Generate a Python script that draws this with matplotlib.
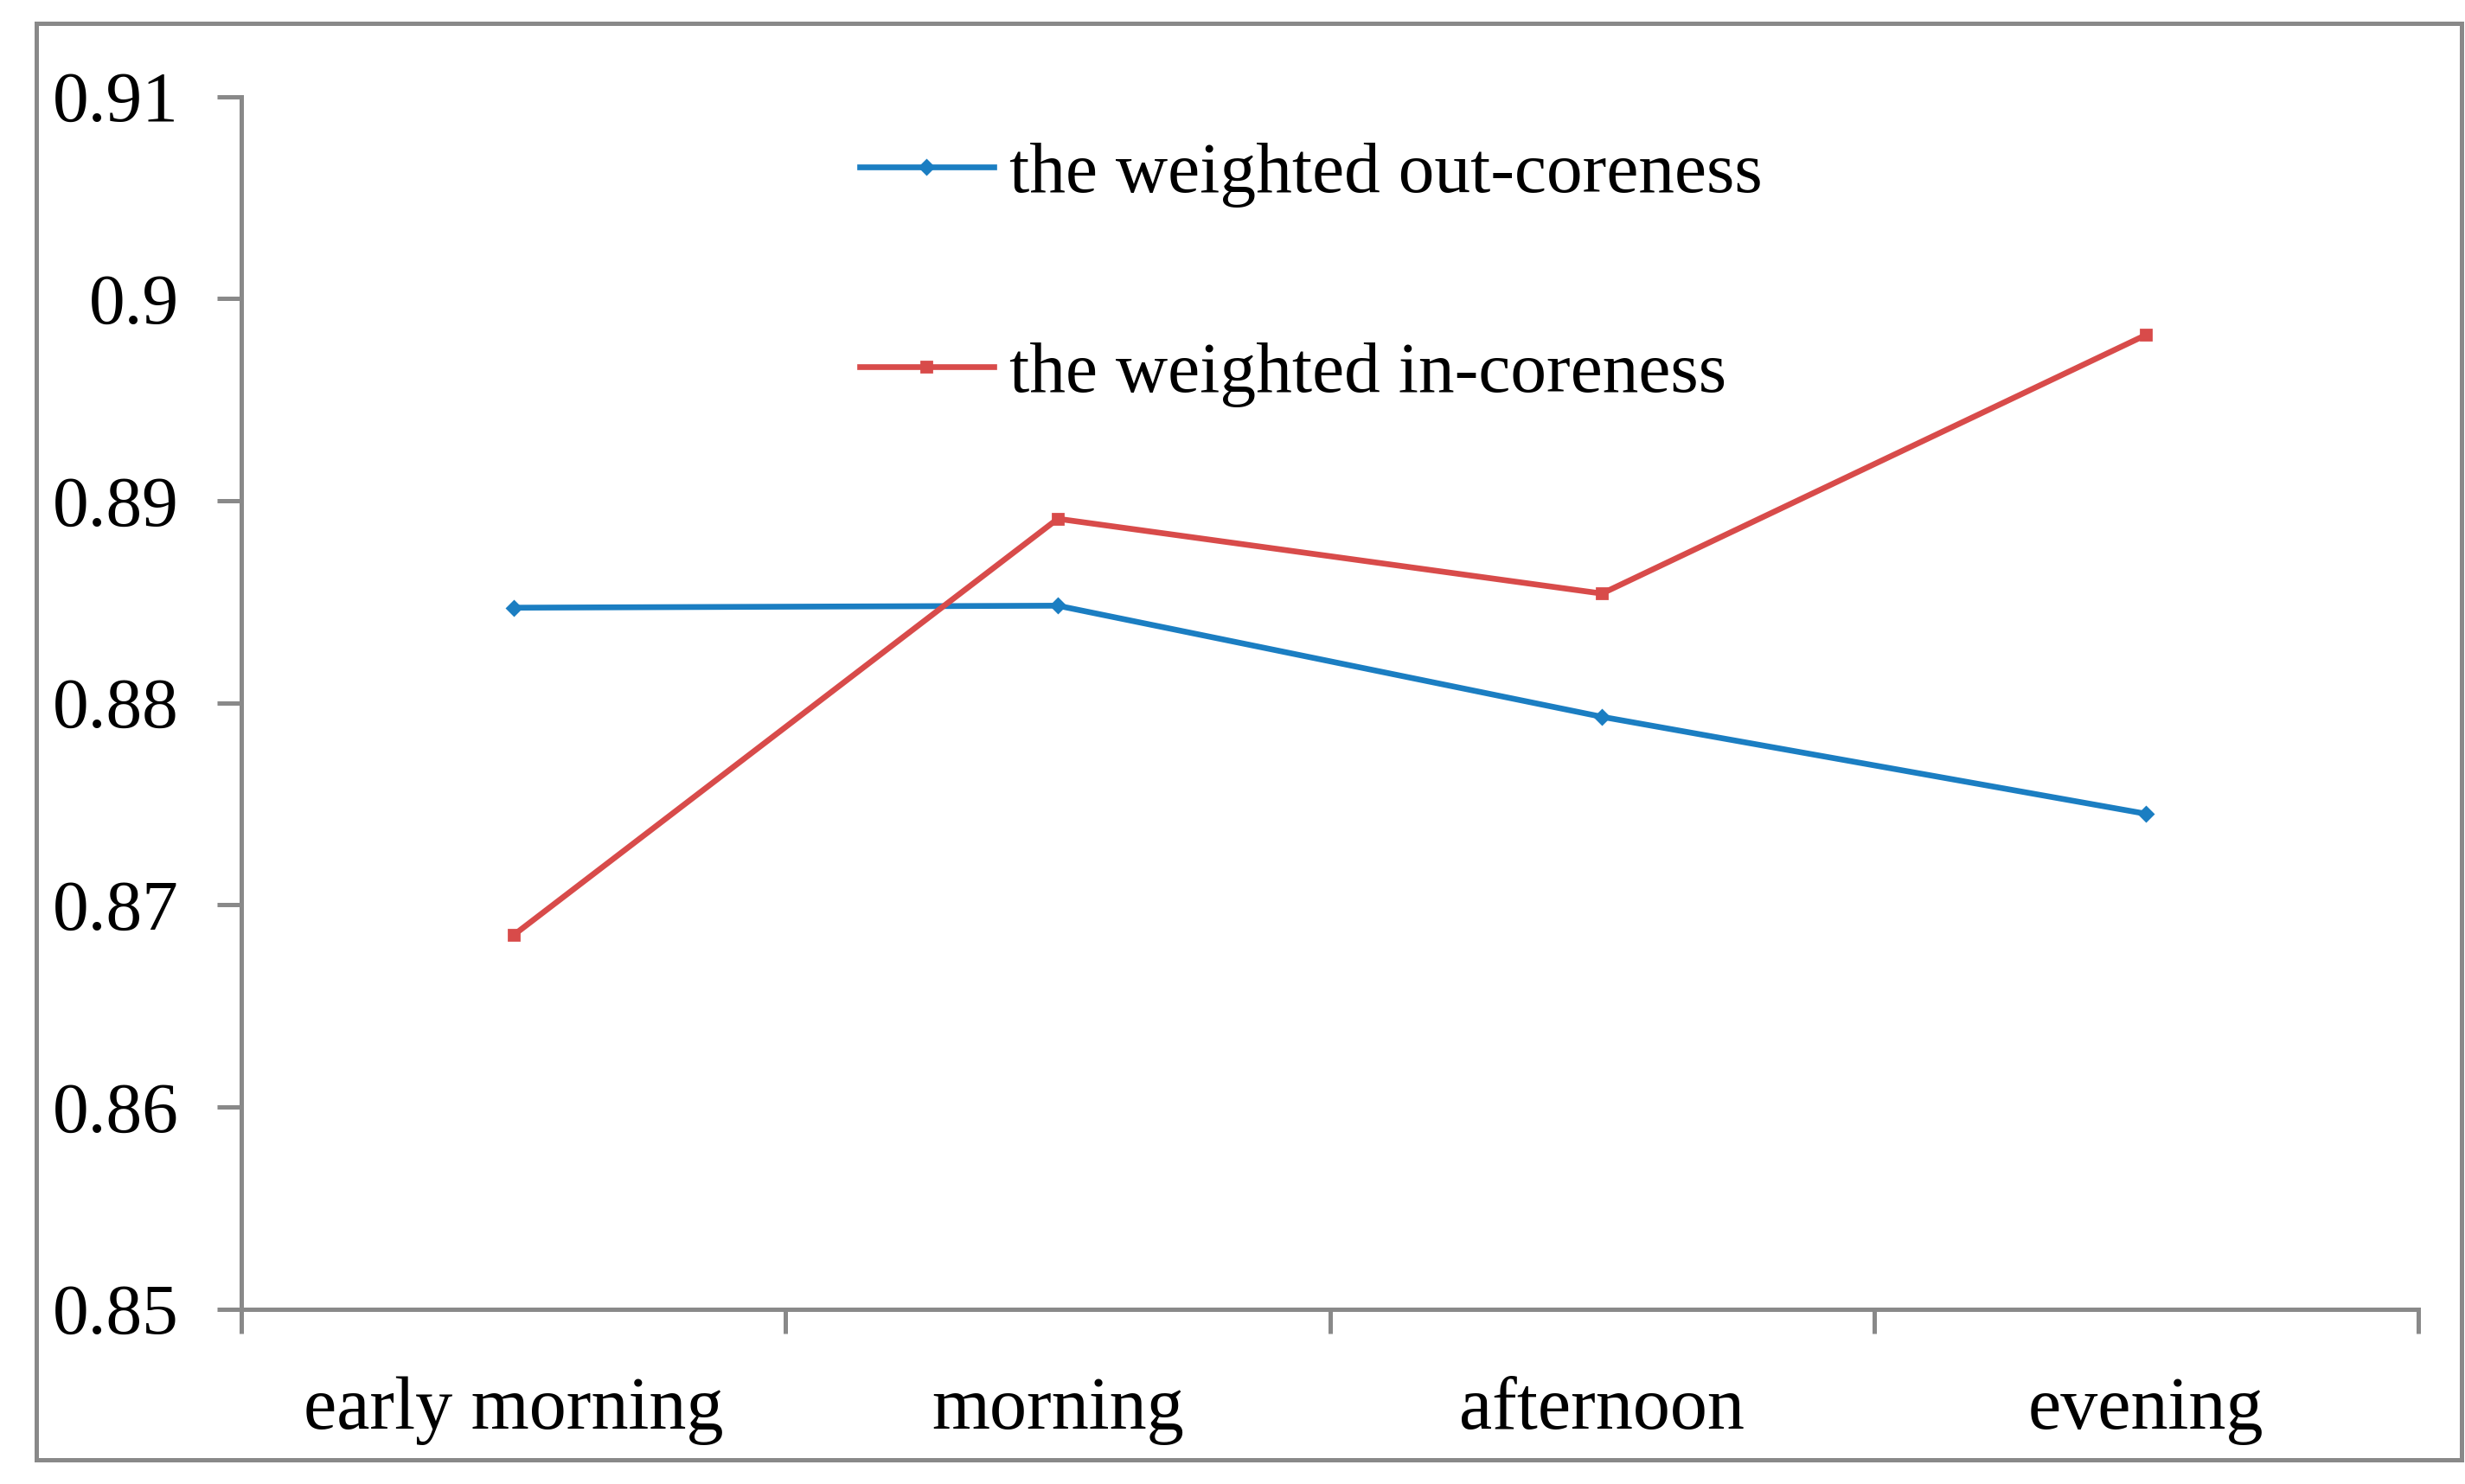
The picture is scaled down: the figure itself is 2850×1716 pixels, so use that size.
import numpy as np
import matplotlib.pyplot as plt
from matplotlib.patches import Rectangle

periods = ['early morning', 'morning', 'afternoon', 'evening']
out_coreness = [0.8847, 0.8848, 0.8793, 0.8745]
in_coreness = [0.8685, 0.8891, 0.8854, 0.8982]
yticks = [0.85, 0.86, 0.87, 0.88, 0.89, 0.9, 0.91]
ytick_labels = ['0.85', '0.86', '0.87', '0.88', '0.89', '0.9', '0.91']

grey = '#898989'
blue = '#1B7EC2'
red = '#D84B4A'

plt.rcParams['font.family'] = ['Liberation Serif', 'DejaVu Serif']

fig = plt.figure(figsize=(14.25, 8.58), dpi=200)
ax = fig.add_axes([0.098, 0.118, 0.883, 0.817])

x = np.arange(len(periods))
ax.plot(x, out_coreness, color=blue, lw=2.4, marker='D', ms=4,
        label='the weighted out-coreness')
ax.plot(x, in_coreness, color=red, lw=2.4, marker='s', ms=4,
        label='the weighted in-coreness')

ax.set_xlim(-0.5, len(periods) - 0.5)
ax.set_ylim(0.85, 0.91)
ax.set_yticks(yticks)
ax.set_yticklabels(ytick_labels)
ax.set_xticks(np.arange(len(periods) + 1) - 0.5)
ax.set_xticklabels([])
ax.set_xticks(x, minor=True)
ax.set_xticklabels(periods, minor=True)

for s in ('top', 'right'):
    ax.spines[s].set_visible(False)
for s in ('left', 'bottom'):
    ax.spines[s].set_color(grey)
    ax.spines[s].set_linewidth(1.8)

ax.tick_params(axis='y', which='major', length=10, width=1.8, color=grey,
               labelsize=30, pad=16)
ax.tick_params(axis='x', which='major', length=10, width=1.8, color=grey,
               direction='out')
ax.tick_params(axis='x', which='minor', length=0, labelsize=31, pad=28)

ax.legend(loc='upper left', bbox_to_anchor=(0.334, 0.929),
          bbox_transform=fig.transFigure, frameon=False, fontsize=30,
          handlelength=1.86, handletextpad=0.22, labelspacing=1.86, borderpad=0)

fig.patches.append(Rectangle((0.0147, 0.0163), 0.984, 0.968,
                             transform=fig.transFigure, fill=False,
                             edgecolor=grey, lw=1.8))

plt.savefig('out.png', dpi=200)
